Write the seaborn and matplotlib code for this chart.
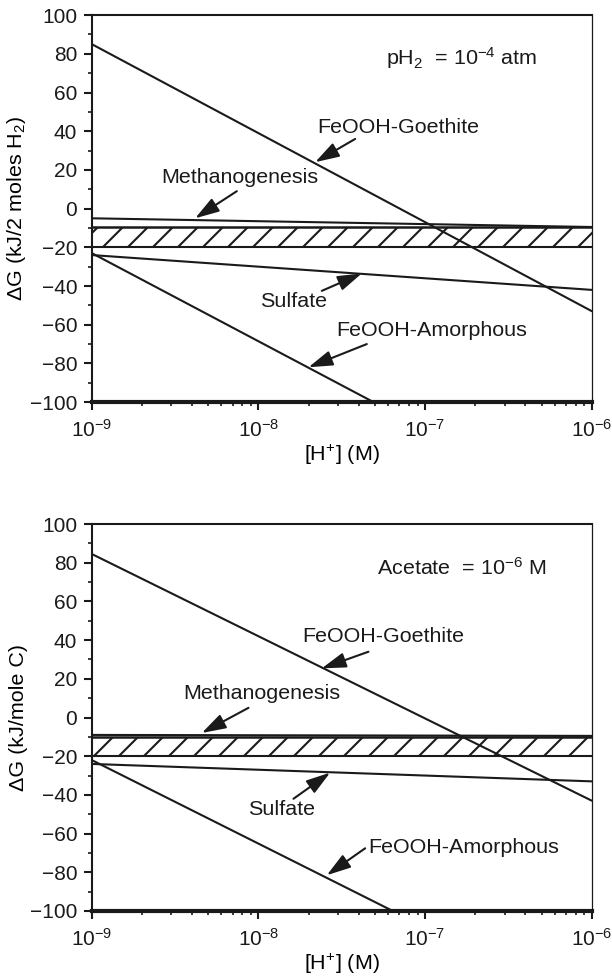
import numpy as np
import pandas as pd
import seaborn as sns
import matplotlib.pyplot as plt
from matplotlib.ticker import FixedLocator, LogLocator, MultipleLocator, NullFormatter

# values: x = [H+] (M), y = dG at the line ends
x_full = [1e-9, 1e-6]
x_ticks = [1e-9, 1e-8, 1e-7, 1e-6]

# top panel (pH2 = 1e-4 atm), kJ/2 moles H2
top_goethite = [85, -53]
top_methano = [-5, -9.5]
top_sulfate = [-24, -42]
top_amorph_x = [1e-9, 4.9e-8]
top_amorph = [-23, -100]
top_band = [-9.5, -20]

# bottom panel (acetate = 1e-6 M), kJ/mole C
bot_goethite = [84.5, -43]
bot_methano = [-9, -9.5]
bot_sulfate = [-24, -33]
bot_amorph_x = [1e-9, 6.4e-8]
bot_amorph = [-22, -100]
bot_band = [-10, -20]

# labels: text, text pos, arrow tail, arrow tip  (x as log10)
top_labels = [
    ("FeOOH-Goethite", (-7.16, 42), (-7.42, 36), (-7.66, 24)),
    ("Methanogenesis", (-8.11, 16), (-8.13, 9), (-8.38, -5)),
    ("Sulfate", (-7.79, -48), (-7.62, -42.5), (-7.38, -33.5)),
    ("FeOOH-Amorphous", (-6.96, -63), (-7.35, -70), (-7.70, -82)),
]
bot_labels = [
    ("FeOOH-Goethite", (-7.25, 42), (-7.34, 34), (-7.62, 25.4)),
    ("Methanogenesis", (-7.98, 12.5), (-8.06, 5), (-8.34, -8)),
    ("Sulfate", (-7.86, -47.5), (-7.79, -42), (-7.57, -28.5)),
    ("FeOOH-Amorphous", (-6.77, -67), (-7.36, -67.6), (-7.59, -81.5)),
]

sns.set_theme(style="ticks")
plt.rcParams["font.family"] = ["Liberation Sans", "DejaVu Sans"]
plt.rcParams["mathtext.fontset"] = "custom"
plt.rcParams["mathtext.rm"] = "Liberation Sans"
plt.rcParams["mathtext.it"] = "Liberation Sans:italic"
plt.rcParams["mathtext.bf"] = "Liberation Sans:bold"
plt.rcParams["hatch.linewidth"] = 1.0
for key in ["text.color", "axes.labelcolor", "xtick.color", "ytick.color"]:
    plt.rcParams[key] = "black"

DPI = 150
fig = plt.figure(figsize=(612 / DPI, 976 / DPI), dpi=DPI)
ax1 = fig.add_axes([0.150, 0.588, 0.817, 0.3965])
ax2 = fig.add_axes([0.150, 0.0666, 0.817, 0.3965])

FS = 10.3


def panel(ax, goethite, methano, sulfate, amx, amorph, band, labels, note, ylab):
    ax.fill_between(x_full, band[0], band[1], facecolor="white", edgecolor="k",
                    hatch="//", linewidth=0)
    ax.axhline(band[0], color="k", lw=1.2)
    ax.axhline(band[1], color="k", lw=1.0)
    for xs, ys in [(x_full, goethite), (x_full, methano), (x_full, sulfate), (amx, amorph)]:
        df = pd.DataFrame({"x": xs, "y": ys})
        sns.lineplot(data=df, x="x", y="y", ax=ax, color="k", lw=1.0)
    for txt, tpos, tail, tip in labels:
        ax.text(10 ** tpos[0], tpos[1], txt, ha="center", va="center", fontsize=FS,
                color="k")
        ax.annotate("", xy=(10 ** tip[0], tip[1]), xytext=(10 ** tail[0], tail[1]),
                    arrowprops=dict(arrowstyle="-|>,head_length=0.7,head_width=0.22",
                                    color="k", lw=1.0, mutation_scale=14,
                                    shrinkA=0, shrinkB=0))
    ax.text(10 ** -6.78, 77.6, note, ha="center", va="center", fontsize=FS, color="k")

    ax.set_xscale("log")
    ax.set_xlim(1e-9, 1e-6)
    ax.set_ylim(-100, 100)
    ax.xaxis.set_major_locator(FixedLocator(x_ticks))
    ax.xaxis.set_minor_locator(LogLocator(base=10, subs=np.arange(2, 10), numticks=20))
    ax.xaxis.set_minor_formatter(NullFormatter())
    ax.yaxis.set_major_locator(MultipleLocator(20))
    ax.yaxis.set_minor_locator(MultipleLocator(10))
    ax.tick_params(which="major", direction="out", length=4, width=1, labelsize=10,
                   color="k", labelcolor="k", top=False, right=False)
    ax.tick_params(which="minor", direction="out", length=2, width=0.8,
                   top=False, right=False, color="k")
    ax.tick_params(axis="x", which="major", pad=4)
    ax.tick_params(axis="y", which="major", pad=3)
    for side in ["top", "left"]:
        ax.spines[side].set_linewidth(1.0)
    ax.spines["right"].set_linewidth(0.6)
    ax.spines["bottom"].set_linewidth(2.0)
    for s in ax.spines.values():
        s.set_color("k")
    ax.set_xlabel("[H$^{+}$] (M)", fontsize=FS, labelpad=1)
    ax.set_ylabel(ylab, fontsize=FS)
    ax.yaxis.set_label_coords(-0.128, 0.5)
    ax.grid(False)


panel(ax1, top_goethite, top_methano, top_sulfate, top_amorph_x, top_amorph, top_band,
      top_labels, "pH$_2$  = 10$^{-4}$ atm", "ΔG (kJ/2 moles H$_2$)")
panel(ax2, bot_goethite, bot_methano, bot_sulfate, bot_amorph_x, bot_amorph, bot_band,
      bot_labels, "Acetate  = 10$^{-6}$ M", "ΔG (kJ/mole C)")

fig.savefig("out.png", dpi=DPI)
